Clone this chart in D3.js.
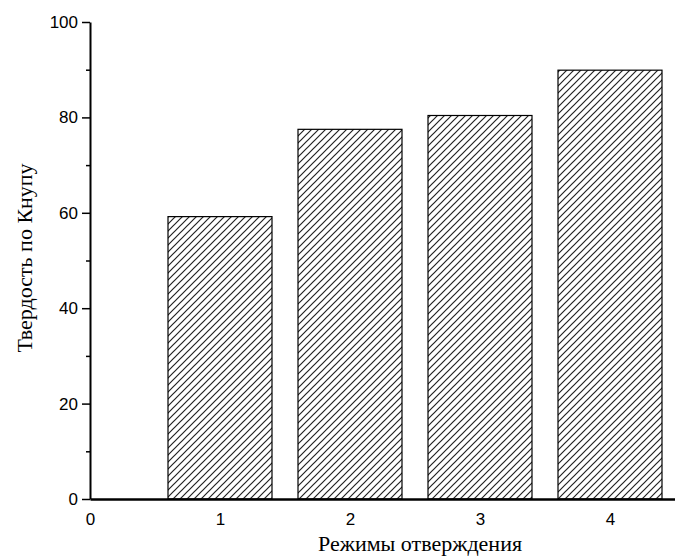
<!DOCTYPE html>
<html lang="ru">
<head>
<meta charset="utf-8">
<title>Твердость по Кнупу</title>
<style>
    body { margin: 0; background: #fff; }
    .tick text { font-family: "Liberation Sans", Arial, sans-serif; font-size: 17px; fill: #000; }
    .axis-title { font-family: "Liberation Serif", "Times New Roman", serif; font-size: 22px; fill: #000; }
</style>
</head>
<body>
<script src="https://d3js.org/d3.v7.min.js"></script>
<script>
// data
var modes = [1, 2, 3, 4];
var hardness = [59.2, 77.5, 80.4, 89.9];
var yTicks = [0, 20, 40, 60, 80, 100];
var yMinor = [10, 30, 50, 70, 90];
var xTicks = [0, 1, 2, 3, 4];

var W = 675, H = 557;
var margin = {top: 22, right: 0, bottom: 58, left: 90};
var width = W - margin.left - margin.right,
    height = H - margin.top - margin.bottom;

var svg = d3.select("body").append("svg")
    .attr("width", W).attr("height", H);

// diagonal hatch, "/" direction
var hs = 7;
svg.append("defs").append("pattern")
    .attr("id", "hatch")
    .attr("patternUnits", "userSpaceOnUse")
    .attr("width", hs).attr("height", hs)
  .append("path")
    .attr("d", `M0,${hs} L${hs},0 M-1,1 L1,-1 M${hs - 1},${hs + 1} L${hs + 1},${hs - 1}`)
    .attr("stroke", "#222").attr("stroke-width", 1.2);

var g = svg.append("g")
    .attr("transform", `translate(${margin.left},${margin.top})`);

var x = d3.scaleLinear().domain([0, 4.5]).range([0, width]);
var y = d3.scaleLinear().domain([0, 100]).range([height, 0]);
var barW = x(0.8) - x(0);

// bars
g.selectAll("rect.bar")
    .data(modes)
  .enter().append("rect")
    .attr("class", "bar")
    .attr("x", (d) => x(d) - barW / 2)
    .attr("y", (d, i) => y(hardness[i]))
    .attr("width", barW)
    .attr("height", (d, i) => y(0) - y(hardness[i]))
    .attr("fill", "url(#hatch)")
    .attr("stroke", "#000")
    .attr("stroke-width", 1.2);

// y axis
var yAxis = g.append("g")
    .call(d3.axisLeft(y).tickValues(yTicks).tickFormat(d3.format("d"))
        .tickSize(8).tickPadding(4).tickSizeOuter(0));
yAxis.select(".domain").attr("stroke-width", 2);
yAxis.selectAll(".tick line").attr("stroke-width", 1.5);

g.append("g")
    .call(d3.axisLeft(y).tickValues(yMinor).tickSize(4).tickFormat(""))
    .call((a) => a.select(".domain").remove())
    .selectAll(".tick line").attr("stroke-width", 1.5);

// x axis (no tick marks)
var xAxis = g.append("g")
    .attr("transform", `translate(0,${height})`)
    .call(d3.axisBottom(x).tickValues(xTicks).tickFormat(d3.format("d"))
        .tickSize(0).tickPadding(14).tickSizeOuter(0));
xAxis.select(".domain").attr("stroke-width", 2.5);

// axis titles
svg.append("text")
    .attr("class", "axis-title")
    .attr("x", 420).attr("y", 551)
    .attr("text-anchor", "middle")
    .text("Режимы отверждения");

svg.append("text")
    .attr("class", "axis-title")
    .attr("transform", `translate(32,258) rotate(-90)`)
    .attr("text-anchor", "middle")
    .text("Твердость по Кнупу");
</script>
</body>
</html>
